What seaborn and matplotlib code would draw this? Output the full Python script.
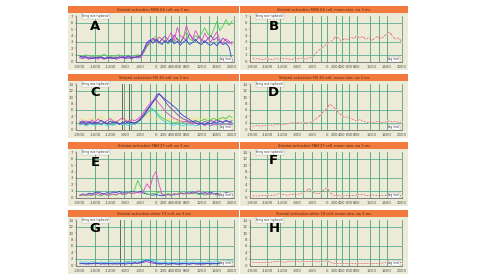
import numpy as np
import pandas as pd
import matplotlib
matplotlib.use("Agg")
import matplotlib.pyplot as plt
import seaborn as sns
from matplotlib.patches import Rectangle

# ---------------- data ----------------
lags = list(range(-2000, 2001, 80))  # 51 lag bins (ms)
xtick_vals = [-2000, -1600, -1200, -800, -400, 0, 200, 400, 600, 800, 1200, 1600, 2000]

a_magenta = [0.6,0.8,0.5,0.4,0.7,0.5,0.3,0.6,0.5,0.4,0.7,0.5,0.6,0.4,0.8,0.6,0.5,0.7,0.6,0.8,0.7,
             1.5,2.6,3.2,3.5,3.0,3.8,3.4,2.9,3.6,4.5,3.2,5.3,4.0,3.6,5.6,4.2,3.4,4.8,3.9,3.1,4.4,3.6,3.0,3.8,4.6,3.3,2.8,3.5,3.1,2.6]
a_blue = [0.8,0.6,0.7,0.5,0.4,0.6,0.5,0.7,0.4,0.5,0.6,0.4,0.5,0.7,0.5,0.6,0.8,0.5,0.6,0.7,0.9,
          1.8,2.9,3.3,2.8,3.4,3.0,2.6,3.2,2.9,3.5,2.7,3.1,2.5,3.0,3.3,2.6,2.9,3.4,2.8,2.6,3.2,2.7,2.5,2.9,2.4,3.0,2.6,2.8,2.2,0.1]
a_green = [0.9,0.7,1.0,0.8,0.6,0.9,0.7,0.8,1.1,0.7,0.9,0.6,0.8,1.0,0.7,0.9,0.8,0.6,0.9,1.0,0.8,
           1.3,2.2,2.8,3.3,3.9,2.9,3.5,3.1,2.7,3.4,3.0,3.6,2.9,3.8,4.6,3.5,3.2,4.0,3.7,4.4,5.2,4.3,3.9,5.0,6.2,4.8,5.5,6.5,5.6,6.3]
a_purple = [0.5,0.4,0.6,0.3,0.5,0.4,0.6,0.5,0.3,0.6,0.4,0.5,0.3,0.5,0.6,0.4,0.5,0.4,0.6,0.5,0.6,
            1.6,2.4,3.0,3.6,3.2,2.8,3.5,3.9,3.3,3.0,4.1,3.4,2.9,3.7,3.2,4.3,3.6,3.1,3.8,3.4,2.9,3.5,4.0,3.3,3.7,3.0,3.6,3.2,2.8,3.0]

b_red = [0.5,0.3,0.4,0.2,0.3,0.4,0.2,0.3,0.4,0.3,0.5,0.3,0.4,0.2,0.4,0.3,0.5,0.4,0.3,0.5,
         0.6,1.1,1.6,2.0,2.3,2.7,3.0,3.3,3.9,3.5,3.1,3.6,3.3,3.8,3.5,4.0,3.6,3.9,3.4,3.7,3.2,3.6,3.9,3.5,3.8,4.3,4.5,3.9,3.4,3.7,3.0]

c_blue = [2.0,2.6,1.8,2.4,1.5,2.2,1.9,2.8,2.1,1.7,2.5,1.9,2.3,1.6,2.0,2.4,1.8,2.2,1.9,
          2.3,3.0,4.2,5.6,7.0,8.4,9.6,11.0,10.2,9.3,8.6,7.8,7.0,6.2,5.0,4.2,3.6,3.0,2.4,2.0,1.6,1.8,1.4,2.0,1.7,2.2,1.9,2.5,2.1,2.8,2.3,2.6]
c_magenta = [2.4,1.8,2.6,2.0,2.9,2.2,3.1,2.5,2.0,2.7,3.3,2.4,2.1,2.9,3.6,2.8,2.3,3.0,2.6,
             3.2,4.0,5.4,6.8,8.0,8.9,9.2,8.1,6.9,5.6,4.8,4.0,3.4,3.0,2.6,2.2,2.5,2.0,1.6,1.9,1.4,1.7,1.2,1.5,1.1,1.6,1.3,1.8,1.4,1.2,1.6,1.3]
c_purple = [1.6,2.1,1.4,1.9,2.3,1.7,2.0,1.5,2.2,1.8,1.6,2.4,1.9,1.5,2.1,1.7,2.6,2.0,1.8,
            2.5,3.4,4.6,6.0,7.4,8.6,10.4,11.2,10.0,8.8,7.4,6.4,5.6,4.6,3.8,3.2,2.8,2.4,2.1,2.6,2.2,1.8,2.4,2.0,2.7,2.3,2.9,2.5,2.1,2.6,2.2,1.9]
c_cyan = [1.2,1.6,1.0,1.4,1.8,1.1,1.5,1.3,1.7,1.0,1.4,1.2,1.6,1.9,1.3,1.5,1.1,1.7,1.4,
          2.0,3.2,4.6,6.0,7.0,6.2,5.0,3.8,2.9,2.2,1.8,1.5,1.2,1.6,1.3,1.1,1.5,1.2,1.4,1.0,1.3,1.6,1.2,1.5,1.1,1.4,1.7,1.3,1.6,1.2,1.5,1.3]
c_green = [1.5,1.9,1.3,1.7,2.1,1.4,1.8,1.6,2.0,1.5,1.7,1.3,1.9,1.6,1.4,1.8,2.2,1.5,1.7,
           2.2,3.0,4.0,5.0,5.8,6.2,5.4,4.4,3.6,3.0,2.6,2.2,1.9,2.3,1.8,2.1,2.5,2.0,2.4,2.8,2.3,2.7,3.1,2.6,3.0,3.4,2.8,3.3,3.7,3.2,4.2,3.6]
c_yellow = [2.8,3.2,2.5,3.0,3.4,2.7,3.5,3.9,3.1,2.6,3.3,2.9,2.4,3.0,2.7,3.2,2.5,2.9,2.6,
            3.0,3.4,3.8,4.2,4.0,3.6,3.2,3.5,3.0,3.3,2.9,3.4,3.1,2.7,3.2,2.8,3.3,3.6,3.1,3.5,2.9,3.3,3.7,3.2,2.8,3.4,3.0,3.5,3.1,3.6,3.2,2.9]

d_red = [0.9,1.0,1.1,0.9,1.2,1.1,1.3,1.2,1.4,1.3,1.6,1.5,1.8,2.0,1.9,2.2,2.0,1.8,2.1,1.9,
         2.4,3.0,3.6,4.6,5.6,6.6,7.8,7.2,6.0,5.0,4.2,3.6,3.9,3.3,2.9,2.6,3.0,2.5,2.2,2.0,2.3,2.1,2.5,2.2,2.0,2.4,2.6,2.2,2.4,2.1,2.3]

e_magenta = [0.3,0.4,0.2,0.5,0.3,0.4,0.6,0.3,0.5,0.4,0.3,0.5,0.4,0.6,0.5,0.4,0.7,0.5,
             0.6,0.8,0.6,1.0,2.1,1.4,3.2,4.0,2.0,0.5,0.3,0.4,0.3,0.5,0.4,0.6,0.5,0.7,0.5,0.6,0.8,1.0,0.7,0.5,0.4,0.6,0.5,0.3,0.4,0.5,0.3,0.4,0.3]
e_green = [0.2,0.3,0.4,0.2,0.3,0.5,0.3,0.2,0.4,0.3,0.5,0.4,0.3,0.6,0.4,0.5,0.8,0.6,
           1.2,2.6,1.6,0.8,0.5,0.4,0.6,0.5,0.8,0.5,0.3,0.6,0.4,0.3,0.5,0.8,0.6,0.4,0.7,0.5,0.6,0.4,0.5,0.3,0.5,0.4,0.6,0.4,0.3,0.5,0.4,0.3,0.4]
e_blue = [0.3,0.5,0.4,0.6,0.5,0.7,0.8,0.6,0.5,0.7,0.6,0.8,0.7,0.9,0.6,0.8,0.7,0.9,
          0.8,0.7,0.9,0.6,0.5,0.4,0.3,0.4,0.3,0.2,0.3,0.4,0.3,0.5,0.4,0.6,0.5,0.7,0.6,0.8,0.7,0.6,0.5,0.7,0.6,0.8,0.5,0.6,0.4,0.5,0.7,0.6,0.4]

f_red = [0.3,0.4,0.3,0.5,0.4,0.6,0.5,0.4,0.8,1.1,0.9,0.7,0.6,0.8,0.7,0.9,1.0,1.4,2.0,2.7,
         1.8,1.3,1.0,1.4,2.4,3.0,1.6,0.6,0.4,0.5,0.3,0.4,0.6,0.5,0.4,0.7,0.9,0.8,0.6,0.5,0.7,0.6,0.5,0.4,0.6,0.5,0.3,0.4,0.5,0.3,0.4]

g_cyan = [1.2,0.9,1.0,0.8,1.1,0.9,0.7,1.0,0.8,0.9,1.1,0.8,1.0,0.9,0.7,1.0,1.2,0.9,1.1,1.3,
          1.0,1.5,1.8,1.4,1.6,1.2,0.9,0.8,1.0,0.7,0.9,0.8,1.0,0.7,0.9,1.1,0.8,1.0,0.9,0.7,1.0,0.8,1.1,0.9,1.0,1.2,0.9,1.3,1.1,1.5,1.7]
g_blue = [0.4,0.6,0.3,0.5,0.4,0.7,0.5,0.3,0.6,0.4,0.5,0.3,0.6,0.5,0.4,0.6,0.7,0.5,0.8,0.6,
          0.9,1.2,1.6,1.3,1.0,0.7,0.5,0.4,0.6,0.3,0.5,0.4,0.3,0.5,0.4,0.6,0.3,0.5,0.4,0.3,0.5,0.4,0.6,0.3,0.5,0.4,0.6,0.5,0.7,0.9,1.2]
g_purple = [0.6,0.4,0.5,0.3,0.6,0.4,0.5,0.6,0.3,0.5,0.4,0.6,0.3,0.4,0.5,0.3,0.5,0.4,0.6,0.5,
            0.7,0.9,1.1,0.8,0.6,0.5,0.3,0.4,0.5,0.3,0.4,0.6,0.4,0.3,0.5,0.4,0.3,0.6,0.4,0.5,0.3,0.4,0.5,0.6,0.4,0.5,0.7,0.6,0.8,1.0,0.9]

h_red = [0.7,0.8,0.7,0.9,0.8,0.7,0.9,1.0,1.2,1.1,1.0,0.9,1.1,1.0,1.2,1.1,1.0,1.1,1.2,1.0,
         1.1,1.2,1.0,1.1,1.2,1.4,1.0,0.6,0.5,0.6,0.4,0.5,0.6,0.5,0.4,0.6,0.5,0.4,0.5,0.6,0.4,0.5,0.4,0.6,0.7,0.9,0.8,0.7,0.8,0.9,0.8]

letters = ["A", "B", "C", "D", "E", "F", "G", "H"]
titles = ["Striatal activation MSN 64 cell, sw 3 ms",
          "Striatal activation MSN 64 cell, mean rate, sw 3 ms",
          "Striatal activation FSI 43 cell, sw 3 ms",
          "Striatal activation FSI 43 cell, mean rate, sw 3 ms",
          "Striatal activation TAN 27 cell, sw 3 ms",
          "Striatal activation TAN 27 cell, mean rate, sw 3 ms",
          "Striatal activation other 19 cell, sw 3 ms",
          "Striatal activation other 19 cell, mean rate, sw 3 ms"]
box_labels = ["firing rate (spikes/s)"] * 8
ymaxes = [7, 7, 14, 14, 7, 14, 14, 14]

MAG, BLU, GRN, PUR, CYN, YEL, RED = "#e04cc8", "#2f3fd0", "#4ccf4c", "#8a3fc4", "#3fd0e4", "#f0e27a", "#d84a4a"
series = [
    [(a_green, GRN), (a_purple, PUR), (a_magenta, MAG), (a_blue, BLU)],
    [(b_red, RED)],
    [(c_yellow, YEL), (c_green, GRN), (c_cyan, CYN), (c_magenta, MAG), (c_purple, PUR), (c_blue, BLU)],
    [(d_red, RED)],
    [(e_blue, BLU), (e_green, GRN), (e_magenta, MAG)],
    [(f_red, RED)],
    [(g_cyan, CYN), (g_purple, PUR), (g_blue, BLU)],
    [(h_red, RED)],
]
vgrid = [-1600, -1250, -850, -650, -400, -150, 0, 250, 400, 600, 800, 1150, 1400, 1600]
dark_lines = [[], [], [-900, -700], [], [], [], [-950], []]
hgrid7 = [1, 3, 6]
hgrid14 = [2, 6, 12]

# ---------------- figure ----------------
W, H = 478, 278
fig = plt.figure(figsize=(W / 100, H / 100), dpi=100)
fig.patch.set_facecolor("white")

def frac(x0, y0, x1, y1):
    return [x0 / W, 1 - y1 / H, (x1 - x0) / W, (y1 - y0) / H]

ORANGE = "#f27a3c"
BEIGE = "#ecebd7"
GRIDC = "#3d9d70"

col_outer = [(68, 239), (240, 408)]
col_axes = [(76, 234), (250, 402)]
col_xlim = [(-2100, 2050), (-2060, 2010)]
row_top = [6, 74, 142, 210]
letter_pos = [(95, 26), (274, 26), (95, 93), (273, 93), (95, 162), (273, 161), (95, 228), (274, 229)]

for i in range(8):
    c, r = i % 2, i // 2
    ox0, ox1 = col_outer[c]
    top = row_top[r]
    bot = top + 64
    fig.patches.append(Rectangle((ox0 / W, 1 - bot / H), (ox1 - ox0) / W, (bot - top) / H,
                                 transform=fig.transFigure, facecolor=BEIGE, edgecolor="none", zorder=-2))
    fig.patches.append(Rectangle((ox0 / W, 1 - (top + 7) / H), (ox1 - ox0) / W, 7 / H,
                                 transform=fig.transFigure, facecolor=ORANGE, edgecolor="none", zorder=-1))
    fig.text((ox0 + ox1) / 2 / W, 1 - (top + 3.6) / H, titles[i], fontsize=2.6, color="#4a2a10",
             ha="center", va="center")

    ax0, ax1 = col_axes[c]
    ax = fig.add_axes(frac(ax0, top + 10, ax1, top + 56))
    ax.set_zorder(1)
    ax.set_facecolor(BEIGE)
    ymax = ymaxes[i]
    for xv in vgrid:
        ax.axvline(xv, color=GRIDC, lw=0.55, zorder=1)
    for xv in dark_lines[i]:
        ax.axvline(xv, color="#303030", lw=0.5, zorder=1)
    for yv in (hgrid7 if ymax == 7 else hgrid14):
        ax.axhline(yv, color="#4fa88c", lw=0.55, zorder=1)
    for vals, colr in series[i]:
        df = pd.DataFrame({"lag": lags, "rate": vals})
        if colr == RED:
            sns.lineplot(data=df, x="lag", y="rate", ax=ax, color=colr, lw=0.45,
                         marker="+", markersize=1.6, markeredgewidth=0.3, zorder=3)
        else:
            sns.lineplot(data=df, x="lag", y="rate", ax=ax, color=colr, lw=0.6, zorder=3)
    ax.set_xlim(*col_xlim[c])
    ax.set_ylim(-0.02 * ymax, ymax * 1.01)
    ax.set_xticks(xtick_vals)
    ax.set_xticklabels([str(v) for v in xtick_vals])
    yt = list(range(0, ymax + 1, 1 if ymax == 7 else 2))
    ax.set_yticks(yt)
    ax.set_yticklabels([str(v) for v in yt])
    ax.set_xlabel("")
    ax.set_ylabel("")
    ax.tick_params(labelsize=2.8, length=1, width=0.3, pad=1, colors="#505050")
    ax.spines["top"].set_visible(False)
    ax.spines["left"].set_color("#707070")
    ax.spines["bottom"].set_color("#707070")
    ax.spines["right"].set_color("#6a9a80")
    for s in ["left", "bottom", "right"]:
        ax.spines[s].set_linewidth(0.6)
    ax.text(0.04, 1.0, box_labels[i], transform=ax.transAxes, fontsize=2.0, va="center", ha="left",
            color="#303030", bbox=dict(facecolor="white", edgecolor="#909090", lw=0.2, pad=0.4), zorder=5)
    ax.text(0.985, 0.06, "lag (ms)", transform=ax.transAxes, fontsize=2.0, va="center", ha="right",
            color="#303030", bbox=dict(facecolor="white", edgecolor="#909090", lw=0.2, pad=0.3), zorder=5)
    lx, ly = letter_pos[i]
    fig.text(lx / W, 1 - ly / H, letters[i], fontsize=9.5, fontweight="bold", color="black",
             ha="center", va="center", zorder=10)

fig.savefig("out.png", dpi=100, facecolor="white")
